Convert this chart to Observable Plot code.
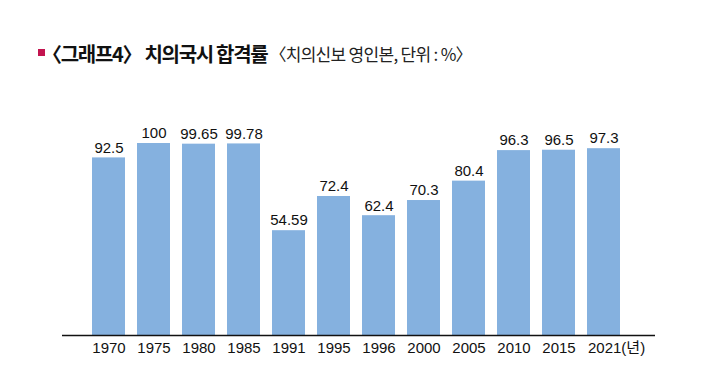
<!DOCTYPE html>
<html>
<head>
<meta charset="utf-8">
<script src="https://cdn.jsdelivr.net/npm/d3@7"></script>
<script src="https://cdn.jsdelivr.net/npm/@observablehq/plot@0.6"></script>
<style>
  html, body { margin: 0; padding: 0; background: #fff; }
  #wrap { position: relative; width: 720px; height: 385px; overflow: hidden; }
  #title { position: absolute; left: 38px; top: 39px; height: 30px; white-space: nowrap;
           font-family: "Noto Sans CJK KR", sans-serif; color: #111; }
  #title .sq { display: inline-block; width: 7px; height: 7px; background: #c3144f; vertical-align: middle; margin-right: -3px; position: relative; top: -1px; }
  #title .main { font-size: 20px; font-weight: 700; letter-spacing: -1.3px; vertical-align: middle; }
  #title .sub { font-size: 17px; font-weight: 400; letter-spacing: -0.7px; vertical-align: middle; margin-left: 2px; color: #222; }
  #chart { position: absolute; left: 0; top: 80px; }
</style>
</head>
<body>
<div id="wrap">
  <div id="title"><span class="sq"></span><span class="main">〈그래프4〉 치의국시 합격률</span><span class="sub">〈치의신보 영인본, 단위 : %〉</span></div>
  <div id="chart"></div>
</div>
<script>
const years = ["1970","1975","1980","1985","1991","1995","1996","2000","2005","2010","2015","2021"];
const rates = [92.5, 100, 99.65, 99.78, 54.59, 72.4, 62.4, 70.3, 80.4, 96.3, 96.5, 97.3];
const lastLabel = "2021(년)";

const data = years.map((y, i) => ({year: y, rate: rates[i]}));
const lastYear = years[years.length - 1];

const chart = Plot.plot({
  width: 720,
  height: 305,
  marginTop: 63,
  marginBottom: 50,
  marginLeft: 62,
  marginRight: 65,
  style: {fontFamily: "'Liberation Sans', 'Noto Sans CJK KR', sans-serif", fontSize: "15px", color: "#111", background: "transparent"},
  x: {domain: years, paddingInner: 0.27, paddingOuter: 0.7, align: 0.46, axis: null},
  y: {domain: [0, 100], axis: null},
  marks: [
    Plot.barY(data, {x: "year", y: "rate", fill: "#85b1df"}),
    Plot.ruleY([0], {stroke: "#111", strokeWidth: 1.5}),
    Plot.text(data, {x: "year", y: "rate", text: d => String(d.rate), dy: -10, fill: "#111", fontSize: 15}),
    Plot.text(years.filter(y => y !== lastYear), {x: d => d, frameAnchor: "bottom", dy: 17, text: d => d, fill: "#111", fontSize: 15}),
    Plot.text([lastYear], {x: d => d, frameAnchor: "bottom", dy: 17, dx: -16, textAnchor: "start", text: () => lastLabel, fill: "#111", fontSize: 15})
  ]
});
document.getElementById("chart").appendChild(chart);
</script>
</body>
</html>
